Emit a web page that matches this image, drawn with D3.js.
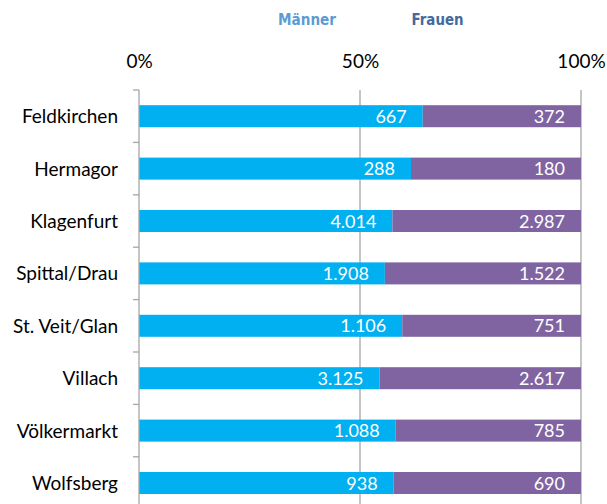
<!DOCTYPE html>
<html>
<head>
<meta charset="utf-8">
<script src="https://cdn.jsdelivr.net/npm/d3@7"></script>
<style>
  body { margin: 0; background: #fff; }
  svg text { font-family: Lato, "Open Sans", "Liberation Sans", sans-serif; }
</style>
</head>
<body>
<svg id="chart" width="607" height="504"></svg>
<script>
// districts, top to bottom
const bezirke = ["Feldkirchen", "Hermagor", "Klagenfurt", "Spittal/Drau",
                 "St. Veit/Glan", "Villach", "Völkermarkt", "Wolfsberg"];
const maenner = [667, 288, 4014, 1908, 1106, 3125, 1088, 938];
const frauen  = [372, 180, 2987, 1522, 751, 2617, 785, 690];
const seriesNames = ["Männer", "Frauen"];
const tickValues = [0, 0.5, 1];

const svg = d3.select("#chart");
const plotLeft = 139, plotRight = 581, plotTop = 90;
const step = 52.4;

const x = d3.scaleLinear().domain([0, 1]).range([plotLeft, plotRight]);
const y = d3.scaleBand().domain(bezirke)
    .range([plotTop, plotTop + step * bezirke.length])
    .paddingInner(0.58).paddingOuter(0.29);

// stacked shares
const rows = bezirke.map((b, i) => {
    let tot = maenner[i] + frauen[i];
    return {name: b, m: maenner[i], f: frauen[i], pm: maenner[i] / tot};
});

// gridlines at 50% / 100%
svg.append("g").selectAll("line")
    .data(tickValues.slice(1))
    .join("line")
    .attr("x1", d => x(d)).attr("x2", d => x(d))
    .attr("y1", plotTop).attr("y2", 504)
    .attr("stroke", "#a6a6a6").attr("stroke-width", 1.3);

// bars
let g = svg.append("g");
g.selectAll("rect.m").data(rows).join("rect")
    .attr("class", "m")
    .attr("x", x(0)).attr("y", d => y(d.name))
    .attr("width", d => x(d.pm) - x(0)).attr("height", y.bandwidth())
    .attr("fill", "#00b0f0");
g.selectAll("rect.f").data(rows).join("rect")
    .attr("class", "f")
    .attr("x", d => x(d.pm)).attr("y", d => y(d.name))
    .attr("width", d => x(1) - x(d.pm)).attr("height", y.bandwidth())
    .attr("fill", "#8064a2");

const fmt = d3.formatLocale({decimal: ",", thousands: ".", grouping: [3], currency: ["", "€"]}).format(",d");

g.selectAll("text.m").data(rows).join("text")
    .attr("class", "m")
    .attr("x", d => x(d.pm) - 16).attr("y", d => y(d.name) + y.bandwidth() / 2)
    .attr("dy", "0.37em").attr("text-anchor", "end")
    .attr("fill", "#fff").style("font-size", "18px")
    .text(d => fmt(d.m));
g.selectAll("text.f").data(rows).join("text")
    .attr("class", "f")
    .attr("x", x(1) - 16).attr("y", d => y(d.name) + y.bandwidth() / 2)
    .attr("dy", "0.37em").attr("text-anchor", "end")
    .attr("fill", "#fff").style("font-size", "18px")
    .text(d => fmt(d.f));

// left axis line + ticks at category boundaries
svg.append("line")
    .attr("x1", plotLeft).attr("x2", plotLeft).attr("y1", plotTop).attr("y2", 504)
    .attr("stroke", "#a6a6a6").attr("stroke-width", 1.3);
svg.append("g").selectAll("line")
    .data(d3.range(bezirke.length + 1))
    .join("line")
    .attr("x1", plotLeft - 6).attr("x2", plotLeft)
    .attr("y1", i => plotTop + i * step).attr("y2", i => plotTop + i * step)
    .attr("stroke", "#a6a6a6").attr("stroke-width", 1.3);

// category labels
svg.append("g").selectAll("text")
    .data(bezirke).join("text")
    .attr("x", 118).attr("y", d => y(d) + y.bandwidth() / 2)
    .attr("dy", "0.37em").attr("text-anchor", "end")
    .attr("fill", "#000").style("font-size", "19px")
    .text(d => d);

// top percent axis
const xAxis = d3.axisTop(x).tickValues(tickValues).tickSize(0).tickPadding(0)
    .tickFormat(d3.format(".0%"));
svg.append("g")
    .attr("transform", "translate(0,68)")
    .call(xAxis)
    .call(a => a.select(".domain").remove())
    .call(a => a.selectAll("text").style("font-size", "19px").attr("fill", "#000")
        .attr("dy", "0").style("font-family", "Lato, 'Open Sans', sans-serif"));

// legend (text only)
const legendX = [307, 437.5];
const legendW = [58, 52];
const legendCol = ["#5b9bd5", "#44699c"];
svg.append("g").selectAll("text")
    .data(seriesNames).join("text")
    .attr("x", (d, i) => legendX[i] - legendW[i] / 2).attr("y", 25)
    .attr("textLength", (d, i) => legendW[i])
    .attr("lengthAdjust", "spacingAndGlyphs")
    .attr("fill", (d, i) => legendCol[i])
    .style("font-size", "15px").style("font-weight", "bold")
    .style("font-family", "'DejaVu Sans', sans-serif")
    .text(d => d);
</script>
</body>
</html>
